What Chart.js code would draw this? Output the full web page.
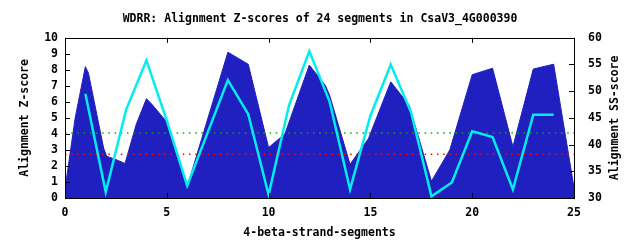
<!DOCTYPE html>
<html>
<head>
<meta charset="utf-8">
<script src="https://cdn.jsdelivr.net/npm/chart.js@4.4.1/dist/chart.umd.min.js"></script>
<style>
  html, body { margin: 0; padding: 0; background: #fff; }
  #wrap { width: 640px; height: 240px; }
</style>
</head>
<body>
<div id="wrap"><canvas id="zChart"></canvas></div>
<script>
// Z-score profile along the segments (x position, z value)
const zPos = [0, 0.05, 0.5, 1, 1.15, 1.9, 2.05, 2.5, 2.95, 3.25, 3.5, 4, 4.3, 4.7, 5, 5.5, 6,
    8, 9, 10, 10.8, 12, 12.8, 13, 14, 14.9, 16, 16.9, 18, 18.9, 20, 21, 22, 23, 24, 25];
const zVals = [0.3, 1.0, 5.0, 8.2, 7.8, 3.1, 2.6, 2.4, 2.15, 3.5, 4.6, 6.2, 5.8, 5.2, 4.75, 2.7, 0.7,
    9.1, 8.35, 3.15, 4.0, 8.3, 7.0, 6.4, 2.1, 3.7, 7.25, 5.8, 1.05, 3.0, 7.7, 8.1, 3.2, 8.05, 8.35, 0.65];

// SS-score per segment (segments 1..24)
const segments = [1, 2, 3, 4, 5, 6, 7, 8, 9, 10, 11, 12, 13, 14, 15, 16, 17, 18, 19, 20, 21, 22, 23, 24];
const ssVals = [49.5, 31.1, 46.5, 55.8, 44.5, 32.3, 42.2, 52.1, 45.7, 30.6, 47.3, 57.5,
    48.0, 31.6, 45.4, 55.0, 46.0, 30.3, 32.9, 42.5, 41.4, 31.6, 45.6, 45.6];

// threshold lines (Z-score)
const redLevel = 2.73;
const greenLevel = 4.05;

const xTicks = [0, 5, 10, 15, 20, 25];
const yTicks = [0, 1, 2, 3, 4, 5, 6, 7, 8, 9, 10];
const y2Ticks = [30, 35, 40, 45, 50, 55, 60];

const FONT = { family: "'DejaVu Sans Mono', monospace", size: 11.5, weight: 'bold' };

const frame = {
    id: 'frame',
    afterDatasetsDraw(chart) {
        const { ctx, chartArea: a, scales } = chart;
        ctx.save();
        ctx.strokeStyle = '#000';
        ctx.lineWidth = 1;
        ctx.beginPath();
        xTicks.forEach(v => {
            const px = Math.round(scales.x.getPixelForValue(v)) + 0.5;
            ctx.moveTo(px, a.bottom); ctx.lineTo(px, a.bottom - 5);
            ctx.moveTo(px, a.top); ctx.lineTo(px, a.top + 5);
        });
        yTicks.forEach(v => {
            const py = Math.round(scales.y.getPixelForValue(v)) + 0.5;
            ctx.moveTo(a.left, py); ctx.lineTo(a.left + 5, py);
        });
        y2Ticks.forEach(v => {
            const py = Math.round(scales.y2.getPixelForValue(v)) + 0.5;
            ctx.moveTo(a.right, py); ctx.lineTo(a.right - 5, py);
        });
        ctx.stroke();
        ctx.strokeRect(Math.round(a.left) + 0.5, Math.round(a.top) + 0.5,
            Math.round(a.right - a.left), Math.round(a.bottom - a.top));

        // right axis title, reading bottom to top like the left one
        ctx.fillStyle = '#000';
        ctx.font = 'bold 11.5px "DejaVu Sans Mono", monospace';
        ctx.textAlign = 'center';
        ctx.textBaseline = 'middle';
        ctx.translate(615, (a.top + a.bottom) / 2);
        ctx.rotate(-Math.PI / 2);
        ctx.fillText('Alignment SS-score', 0, 0);
        ctx.restore();
    }
};

new Chart(document.getElementById('zChart'), {
    type: 'line',
    data: {
        datasets: [
            {
                label: 'SS-score',
                data: segments.map((s, i) => ({ x: s, y: ssVals[i] })),
                yAxisID: 'y2',
                borderColor: '#00eeee',
                borderWidth: 2.5,
                pointRadius: 0,
                fill: false,
                order: 1
            },
            {
                label: 'red',
                data: [{ x: 0, y: redLevel }, { x: 25, y: redLevel }],
                yAxisID: 'y',
                borderColor: '#ff0000',
                borderWidth: 1.5,
                borderDash: [1.5, 4.7],
                pointRadius: 0,
                fill: false,
                order: 2
            },
            {
                label: 'green',
                data: [{ x: 0, y: greenLevel }, { x: 25, y: greenLevel }],
                yAxisID: 'y',
                borderColor: '#00b000',
                borderWidth: 1.5,
                borderDash: [1.5, 4.7],
                pointRadius: 0,
                fill: false,
                order: 3
            },
            {
                label: 'Z-score',
                data: zPos.map((p, i) => ({ x: p, y: zVals[i] })),
                yAxisID: 'y',
                borderColor: '#2020c0',
                backgroundColor: '#2020c0',
                borderWidth: 1,
                pointRadius: 0,
                fill: 'origin',
                order: 4
            }
        ]
    },
    options: {
        responsive: true,
        maintainAspectRatio: false,
        animation: false,
        events: [],
        layout: { padding: 0 },
        plugins: {
            legend: { display: false },
            tooltip: { enabled: false },
            title: {
                display: true,
                text: 'WDRR: Alignment Z-scores of 24 segments in CsaV3_4G000390',
                color: '#000',
                font: FONT,
                padding: { top: 12, bottom: 12 }
            }
        },
        scales: {
            x: {
                type: 'linear',
                min: 0,
                max: 25,
                afterFit: s => { s.height = 42; },
                afterBuildTicks: s => { s.ticks = xTicks.map(v => ({ value: v })); },
                grid: { display: false, drawTicks: false },
                border: { display: false },
                ticks: { color: '#000', font: FONT, padding: 8, maxRotation: 0, autoSkip: false },
                title: { display: true, text: '4-beta-strand-segments', color: '#000', font: FONT, padding: { top: 4, bottom: 0 } }
            },
            y: {
                position: 'left',
                min: 0,
                max: 10,
                afterFit: s => { s.width = 65; },
                afterBuildTicks: s => { s.ticks = yTicks.map(v => ({ value: v })); },
                grid: { display: false, drawTicks: false },
                border: { display: false },
                ticks: { color: '#000', font: FONT, padding: 7, autoSkip: false },
                title: { display: true, text: 'Alignment Z-score', color: '#000', font: FONT, padding: { top: 18, bottom: 0 } }
            },
            y2: {
                position: 'right',
                min: 30,
                max: 60,
                afterFit: s => { s.width = 66; },
                afterBuildTicks: s => { s.ticks = y2Ticks.map(v => ({ value: v })); },
                grid: { display: false, drawTicks: false },
                border: { display: false },
                ticks: { color: '#000', font: FONT, padding: 14, autoSkip: false },
                title: { display: false }
            }
        }
    },
    plugins: [frame]
});
</script>
</body>
</html>
